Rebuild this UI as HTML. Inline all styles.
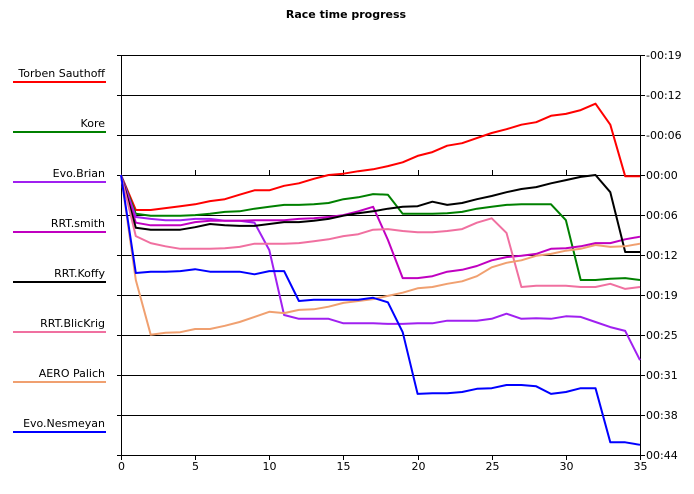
<!DOCTYPE html>
<html><head><meta charset="utf-8"><style>
body{margin:0;background:#fff;}
svg{display:block;font-family:"DejaVu Sans","Liberation Sans",sans-serif;}
</style></head><body>
<svg id="chart" width="694" height="494" viewBox="0 0 694 494">
<text x="346" y="18" text-anchor="middle" font-size="11" font-weight="bold">Race time progress</text>
<g id="grid"></g><g id="series"></g><g id="legend"></g>
</svg>
<script>
const laps = Array.from({length:36},(_,i)=>i);
const xTicks = [0,5,10,15,20,25,30,35];
const yTickLabels = ["-00:19","-00:12","-00:06","00:00","00:06","00:12","00:19","00:25","00:31","00:38","00:44"];
const names = ["Torben Sauthoff","Kore","Evo.Brian","RRT.smith","RRT.Koffy","RRT.BlicKrig","AERO  Palich","Evo.Nesmeyan"];
const colors = ["#ff0000","#008000","#a020f0","#c000c0","#000000","#f070a0","#f0a070","#0000ff"];
const torben = [0,5.5,5.5,5.2,4.9,4.6,4.1,3.8,3.1,2.4,2.4,1.7,1.3,0.6,0,-0.2,-0.6,-0.9,-1.4,-2.0,-3.0,-3.6,-4.6,-5.0,-5.8,-6.6,-7.2,-7.9,-8.3,-9.3,-9.6,-10.2,-11.2,-7.9,0.2,0.2];
const kore = [0,6.1,6.4,6.4,6.4,6.3,6.1,5.8,5.7,5.3,5.0,4.7,4.7,4.6,4.4,3.8,3.5,3.0,3.1,6.1,6.1,6.1,6.0,5.8,5.3,5.0,4.7,4.6,4.6,4.6,7.1,16.5,16.5,16.3,16.2,16.5];
const brian = [0,6.6,6.9,7.1,7.1,6.9,6.9,7.2,7.2,7.5,11.8,22.0,22.6,22.6,22.6,23.3,23.3,23.3,23.4,23.4,23.3,23.3,22.9,22.9,22.9,22.6,21.8,22.6,22.5,22.6,22.2,22.3,23.1,23.9,24.5,29.1];
const smith = [0,7.5,7.9,7.9,7.9,7.4,7.2,7.2,7.2,7.1,7.1,7.1,6.9,6.8,6.6,6.3,5.7,5.0,10.2,16.2,16.2,15.9,15.2,14.9,14.3,13.4,12.9,12.7,12.4,11.6,11.5,11.2,10.7,10.7,10.1,9.7];
const koffy = [0,8.3,8.6,8.6,8.6,8.2,7.7,7.9,8.0,8.0,7.7,7.4,7.4,7.2,6.9,6.4,6.0,5.7,5.3,5.0,4.9,4.2,4.7,4.4,3.8,3.3,2.7,2.2,1.9,1.3,0.8,0.3,0,2.7,12.1,12.1];
const blickrig = [0,9.6,10.7,11.2,11.6,11.6,11.6,11.5,11.3,10.8,10.8,10.8,10.7,10.4,10.1,9.6,9.3,8.6,8.5,8.8,9.0,9.0,8.8,8.5,7.5,6.8,9.1,17.6,17.4,17.4,17.4,17.6,17.6,17.1,17.9,17.6];
const palich = [0,16.5,25.1,24.8,24.7,24.2,24.2,23.7,23.1,22.3,21.5,21.7,21.2,21.1,20.7,20.1,19.8,19.5,19.0,18.5,17.8,17.6,17.1,16.7,15.9,14.5,13.8,13.4,12.7,12.4,11.9,11.6,11.0,11.3,11.2,10.8];
const nesmeyan = [0,15.4,15.2,15.2,15.1,14.8,15.2,15.2,15.2,15.6,15.1,15.1,19.8,19.6,19.6,19.6,19.6,19.3,20.0,24.7,34.4,34.3,34.3,34.1,33.6,33.5,33.0,33.0,33.2,34.4,34.1,33.5,33.5,42.0,42.0,42.4];
const allSeries = [torben,kore,brian,smith,koffy,blickrig,palich,nesmeyan];

const NS="http://www.w3.org/2000/svg";
const L=121,R=640,T=55,B=455,Y0=175;
const X=v=>L+v*(R-L)/35;
const Y=s=>Y0+s*(B-Y0)/44;
function mk(tag,attrs,parent){const e=document.createElementNS(NS,tag);for(const k in attrs)e.setAttribute(k,attrs[k]);parent.appendChild(e);return e;}
const grid=document.getElementById('grid');
yTickLabels.forEach((lab,k)=>{
  const y=T+k*(B-T)/10;
  const g=mk('line',{x1:117,x2:645,y1:y+0.5,y2:y+0.5,stroke:'#000','stroke-width':1},grid);
  
  
  const t=mk('text',{x:646,y:y+4,'font-size':11},grid);
  t.textContent=lab;
  
  
});
const ax=mk('line',{x1:L+0.5,x2:L+0.5,y1:T,y2:B+1,stroke:'#000'},grid);


const ax2=mk('line',{x1:R+0.5,x2:R+0.5,y1:T,y2:B+1,stroke:'#000'},grid);


xTicks.forEach(v=>{
  const x=Math.round(X(v))+0.5;
  const tk=mk('line',{x1:x,x2:x,y1:B,y2:B+5,stroke:'#000'},grid);
  
  
  const zt=mk('line',{x1:x,x2:x,y1:Y0-5,y2:Y0,stroke:'#000'},grid);
  
  
  const t=mk('text',{x:x,y:B+15,'font-size':11,'text-anchor':'middle'},grid);
  t.textContent=v;
  
  
});
const sg=document.getElementById('series');
const lg=document.getElementById('legend');
allSeries.forEach((d,i)=>{
  const pts=d.map((s,j)=>X(laps[j]).toFixed(1)+','+Y(s).toFixed(1)).join(' ');
  const p=mk('polyline',{points:pts,fill:'none',stroke:colors[i],'stroke-width':2,'stroke-linejoin':'round'},sg);
  
  
  const ly=82+i*50;
  const t=mk('text',{x:105,y:ly-5,'font-size':11,'text-anchor':'end'},lg);
  t.textContent=names[i];
  
  
  const ln=mk('line',{x1:13,x2:106,y1:ly,y2:ly,stroke:colors[i],'stroke-width':2},lg);
  
  
});
</script>
</body></html>
